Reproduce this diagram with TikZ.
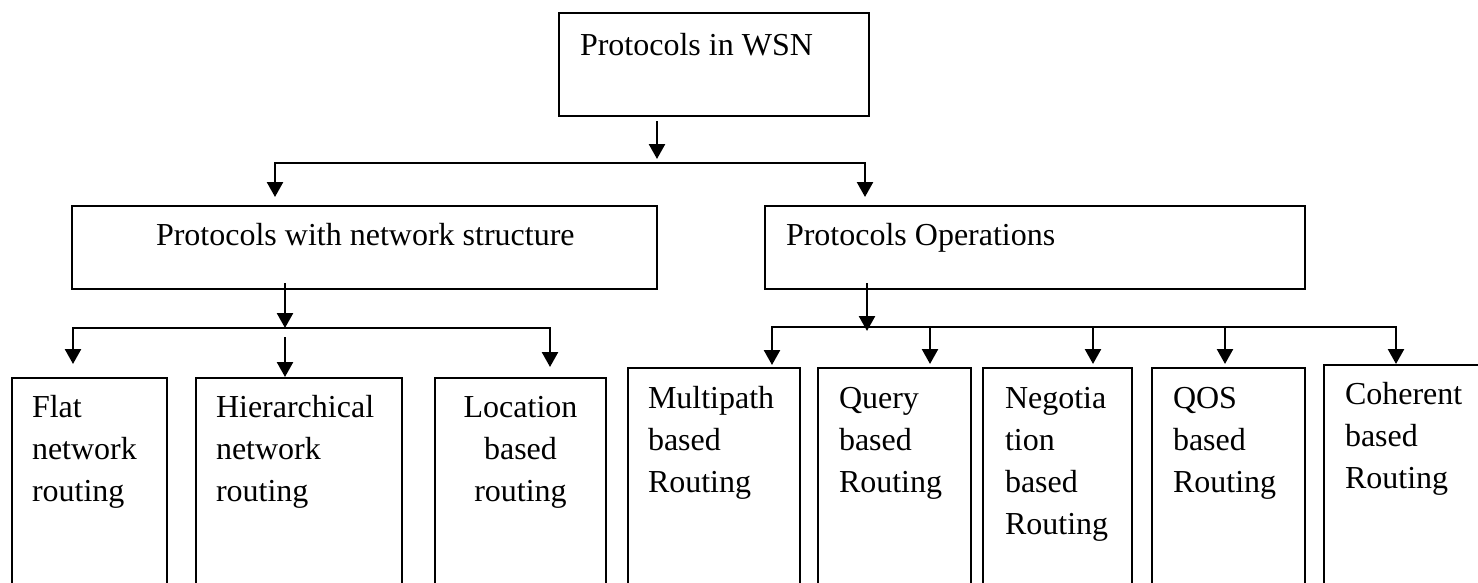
\documentclass[tikz,border=0pt]{standalone}
\usepackage{fontspec}
\setmainfont{Liberation Serif}
\usetikzlibrary{arrows.meta}
\newcommand\mylinesL[1]{\vtop{\halign{##\hfil\cr#1\crcr}}}
\newcommand\mylinesC[1]{\vtop{\halign{\hfil##\hfil\cr#1\crcr}}}
\begin{document}
\begin{tikzpicture}[x=1pt,y=-1pt,
  box/.style={draw, line width=2pt, inner sep=0pt, outer sep=0pt, anchor=north west},
  txt/.style={inner sep=0pt, outer sep=0pt, font=\fontsize{32}{42}\selectfont},
  arr/.style={line width=2.5pt, -{Triangle[length=15pt,width=16pt]}}]
\useasboundingbox (0,0) rectangle (1478,582);
\clip (0,0) rectangle (1478,582);
% boxes
\node[box, minimum width=310pt, minimum height=103pt] (top) at (559,13) {};
\node[box, minimum width=585pt, minimum height=83pt] (mid1) at (72,206) {};
\node[box, minimum width=540pt, minimum height=83pt] (mid2) at (765,206) {};
\node[box, minimum width=155pt, minimum height=240pt] (b1) at (12,378) {};
\node[box, minimum width=206pt, minimum height=240pt] (b2) at (196,378) {};
\node[box, minimum width=171pt, minimum height=240pt] (b3) at (435,378) {};
\node[box, minimum width=172pt, minimum height=250pt] (r1) at (628,368) {};
\node[box, minimum width=153pt, minimum height=250pt] (r2) at (818,368) {};
\node[box, minimum width=149pt, minimum height=250pt] (r3) at (983,368) {};
\node[box, minimum width=153pt, minimum height=250pt] (r4) at (1152,368) {};
\node[box, minimum width=200pt, minimum height=250pt] (r5) at (1324,365) {};
% texts
\node[txt, anchor=base west] (t0) at (580,55) {Protocols in WSN};
\node[txt, anchor=base west] (t1) at (156,245) {Protocols with network structure};
\node[txt, anchor=base west] (t2) at (786,245) {Protocols Operations};
\node[txt, anchor=base west] (tb1) at (32,417) {\mylinesL{Flat\cr network\cr routing}};
\node[txt, anchor=base west] (tb2) at (216,417) {\mylinesL{Hierarchical\cr network\cr routing}};
\node[txt, anchor=base] (tb3) at (520.5,417) {\mylinesC{Location\cr based\cr routing}};
\node[txt, anchor=base west] (tr1) at (648,408) {\mylinesL{Multipath\cr based\cr Routing}};
\node[txt, anchor=base west] (tr2) at (839,408) {\mylinesL{Query\cr based\cr Routing}};
\node[txt, anchor=base west] (tr3) at (1005,408) {\mylinesL{Negotia\cr tion\cr based\cr Routing}};
\node[txt, anchor=base west] (tr4) at (1173,408) {\mylinesL{QOS\cr based\cr Routing}};
\node[txt, anchor=base west] (tr5) at (1345,404) {\mylinesL{Coherent\cr based\cr Routing}};
% junction coordinates
\coordinate (j1) at (657,163);
\coordinate (jl) at (275,163);
\coordinate (jr) at (865,163);
\coordinate (j2) at (285,328);
\coordinate (j2l) at (73,328);
\coordinate (j2r) at (550,328);
\coordinate (k) at (867,327);
\coordinate (kl) at (772,327);
\coordinate (k2) at (930,327);
\coordinate (k3) at (1093,327);
\coordinate (k4) at (1225,327);
\coordinate (kr) at (1396,327);
% connectors
\draw[arr, shorten <=5pt, shorten >=4pt] (top.south -| j1) -- (j1);
\draw[arr, shorten >=9pt] (j1) -| (mid1.north -| jl);
\draw[arr, shorten >=9pt] (j1) -| (mid2.north -| jr);
\draw[arr, shorten <=-6pt] (mid1.south -| j2) -- (j2);
\draw[arr, shorten >=14pt] (j2) -| (b1.north -| j2l);
\draw[arr, shorten >=11pt] (j2) -| (b3.north -| j2r);
\draw[arr, shorten <=9pt, shorten >=1pt] (j2) -- (b2.north -| j2);
\draw[arr, shorten <=-6pt, shorten >=-4pt] (mid2.south -| k) -- (k);
\draw[arr, shorten >=3pt] (k) -| (r1.north -| kl);
\draw[arr, shorten >=1pt] (k) -| (r5.north -| kr);
\draw[arr, shorten >=4pt] (k2) -- (r2.north -| k2);
\draw[arr, shorten >=4pt] (k3) -- (r3.north -| k3);
\draw[arr, shorten >=4pt] (k4) -- (r4.north -| k4);
\end{tikzpicture}
\end{document}
